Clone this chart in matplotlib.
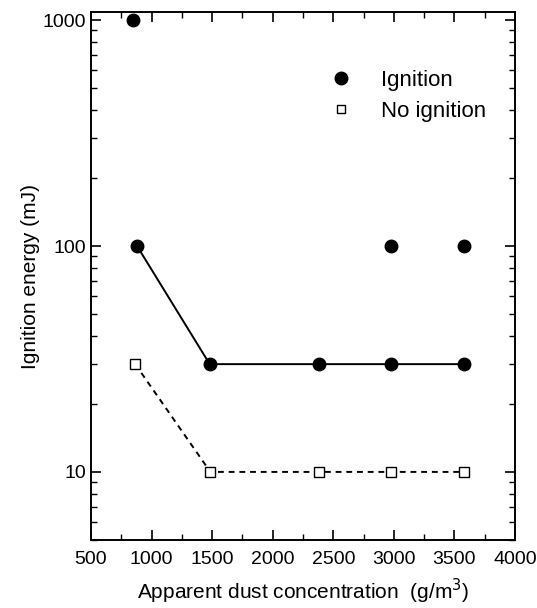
import numpy as np
import matplotlib.pyplot as plt
from matplotlib.ticker import MultipleLocator, FixedLocator, NullFormatter
from matplotlib.lines import Line2D

plt.rcParams['font.family'] = ['Liberation Sans', 'DejaVu Sans']

# Ignition points (all measured)
ign_x = [850, 880, 1480, 2380, 2980, 2980, 3580, 3580]
ign_y = [1000, 100, 30, 30, 30, 100, 30, 100]

# Ignition boundary (solid line)
ign_line_x = [880, 1480, 2380, 2980, 3580]
ign_line_y = [100, 30, 30, 30, 30]

# No ignition points (dashed line)
noign_x = [865, 1485, 2380, 2980, 3580]
noign_y = [30, 10, 10, 10, 10]

x_ticks = [500, 1000, 1500, 2000, 2500, 3000, 3500, 4000]
y_ticks = [10, 100, 1000]

fig = plt.figure(figsize=(5.37, 6.08), dpi=100)
ax = fig.add_axes([0.1695, 0.112, 0.7895, 0.868])

ax.plot(ign_line_x, ign_line_y, '-', color='black', linewidth=1.4, zorder=2)
ax.plot(noign_x, noign_y, '--', color='black', linewidth=1.4, dashes=(3, 2.5), zorder=2)
ax.plot(ign_x, ign_y, 'o', color='black', markersize=9, linestyle='none', zorder=3)
ax.plot(noign_x, noign_y, 's', markerfacecolor='white', markeredgecolor='black',
        markersize=6.5, markeredgewidth=1.0, linestyle='none', zorder=3)

ax.set_yscale('log')
ax.set_xlim(500, 4000)
ax.set_ylim(5, 1085)
ax.xaxis.set_major_locator(FixedLocator(x_ticks))
ax.xaxis.set_minor_locator(MultipleLocator(250))
ax.yaxis.set_major_locator(FixedLocator(y_ticks))
ax.set_yticklabels([str(v) for v in y_ticks])
minors = [m * 10 ** e for e in range(0, 4) for m in range(2, 10)]
ax.yaxis.set_minor_locator(FixedLocator(minors))
ax.yaxis.set_minor_formatter(NullFormatter())

ax.tick_params(which='both', direction='in', top=True, right=True, labelsize=14)
ax.tick_params(which='major', length=7, width=1.2)
ax.tick_params(which='minor', length=4, width=1.0)
ax.tick_params(axis='x', pad=8)
for s in ax.spines.values():
    s.set_linewidth(1.4)

ax.set_xlabel('Apparent dust concentration  (g/m$^3$)', fontsize=15, labelpad=6)
ax.set_ylabel('Ignition energy (mJ)', fontsize=15, labelpad=2)

handles = [
    Line2D([], [], marker='o', color='black', linestyle='none', markersize=9),
    Line2D([], [], marker='s', markerfacecolor='white', markeredgecolor='black',
           linestyle='none', markersize=6),
]
ax.legend(handles, ['Ignition', 'No ignition'], loc='upper left',
          bbox_to_anchor=(0.516, 0.907), frameon=False, fontsize=16,
          handletextpad=0.8, labelspacing=0.45, borderaxespad=0)

fig.savefig('out.png', dpi=100, facecolor='white')
